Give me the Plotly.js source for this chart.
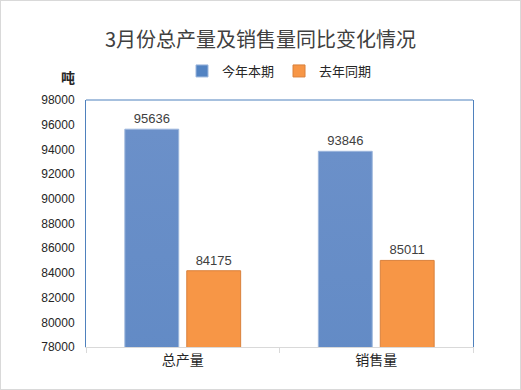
<!DOCTYPE html>
<html><head><meta charset="utf-8">
<script src="https://cdn.plot.ly/plotly-3.0.1.min.js"></script>
<style>
html,body{margin:0;padding:0;background:#fff;}
#wrap{position:relative;width:521px;height:390px;}
#chart{width:521px;height:390px;}
#frame{position:absolute;left:0;top:0;width:519px;height:388px;border:1px solid #d9d9d9;pointer-events:none;}
</style></head>
<body><div id="wrap"><div id="chart"></div><div id="frame"></div></div>
<script>
const categories = ["总产量", "销售量"];
const seriesNames = ["今年本期", "去年同期"];
const thisYear = [95636, 93846];
const lastYear = [84175, 85011];
const yTicks = [78000, 80000, 82000, 84000, 86000, 88000, 90000, 92000, 94000, 96000, 98000];

const FONT = "Liberation Sans, Noto Sans CJK SC, sans-serif";
const CJK = "Noto Sans CJK SC, sans-serif";

const traces = [
  {type:"bar", name:seriesNames[0], x:categories, y:thisYear,
   marker:{color:"#5283c2", line:{color:"#9cb6dc", width:1}},
   text:thisYear.map(String), textposition:"outside", cliponaxis:false,
   textfont:{family:FONT, size:13, color:"#404040"}},
  {type:"bar", name:seriesNames[1], x:categories, y:lastYear,
   marker:{color:"#f79646", line:{color:"#d9813c", width:1}},
   text:lastYear.map(String), textposition:"outside", cliponaxis:false,
   textfont:{family:FONT, size:13, color:"#404040"}}
];

const layout = {
  width:521, height:390,
  margin:{l:86, r:48, t:100, b:43},
  paper_bgcolor:"#ffffff", plot_bgcolor:"#ffffff",
  barmode:"group", bargap:0.36, bargroupgap:0.13,
  showlegend:true,
  title:{text:"3月份总产量及销售量同比变化情况", x:0.5, xanchor:"center",
         y:1-40/390, yanchor:"middle", yref:"container",
         font:{family:CJK, size:20, color:"#404040"}},
  legend:{orientation:"h", x:0.5, xanchor:"center", xref:"paper",
          y:1-71/390, yanchor:"middle", yref:"container",
          font:{family:CJK, size:13, color:"#262626"}, itemwidth:30},
  xaxis:{type:"category", showline:true, linecolor:"#d9d9d9", linewidth:1,
         ticks:"outside", tickson:"boundaries", ticklen:5, tickcolor:"#d9d9d9",
         tickfont:{family:CJK, size:14, color:"#262626"}, showgrid:false, zeroline:false,
         fixedrange:true},
  yaxis:{range:[78000, 98000], tickvals:yTicks, ticktext:yTicks.map(String),
         showline:true, mirror:true, linecolor:"#4f81bd", linewidth:1,
         showgrid:false, zeroline:false, ticks:"", ticklabelstandoff:8,
         tickfont:{family:FONT, size:12, color:"#262626"}},
  shapes:[{type:"line", xref:"paper", yref:"paper", x0:0, x1:1, y0:1, y1:1,
           line:{color:"#4f81bd", width:1}}],
  annotations:[{text:"<b>吨</b>", xref:"paper", yref:"paper", x:-18/387, y:1+23/247,
                xanchor:"center", yanchor:"middle", showarrow:false,
                font:{family:CJK, size:14, color:"#262626"}}]
};

Plotly.newPlot("chart", traces, layout, {displayModeBar:false, staticPlot:true}).then(function(gd){
  const svg = gd.querySelector("svg.main-svg");
  const ns = "http://www.w3.org/2000/svg";
  let defs = svg.querySelector("defs");
  if(!defs){defs = document.createElementNS(ns,"defs"); svg.insertBefore(defs, svg.firstChild);}
  function grad(id, top, bottom){
    const g = document.createElementNS(ns,"linearGradient");
    g.setAttribute("id", id); g.setAttribute("x1","0"); g.setAttribute("y1","0");
    g.setAttribute("x2","0"); g.setAttribute("y2","1");
    [[0,top],[1,bottom]].forEach(function(s){
      const st = document.createElementNS(ns,"stop");
      st.setAttribute("offset", s[0]); st.setAttribute("stop-color", s[1]);
      g.appendChild(st);
    });
    defs.appendChild(g);
  }
  grad("gBlue", "#6b90c9", "#3d73b6");
  const tr = gd.querySelectorAll(".barlayer .trace");
  if(tr[0]) tr[0].querySelectorAll(".point path").forEach(function(p){ p.style.fill = "url(#gBlue)"; });
});
</script></body></html>
